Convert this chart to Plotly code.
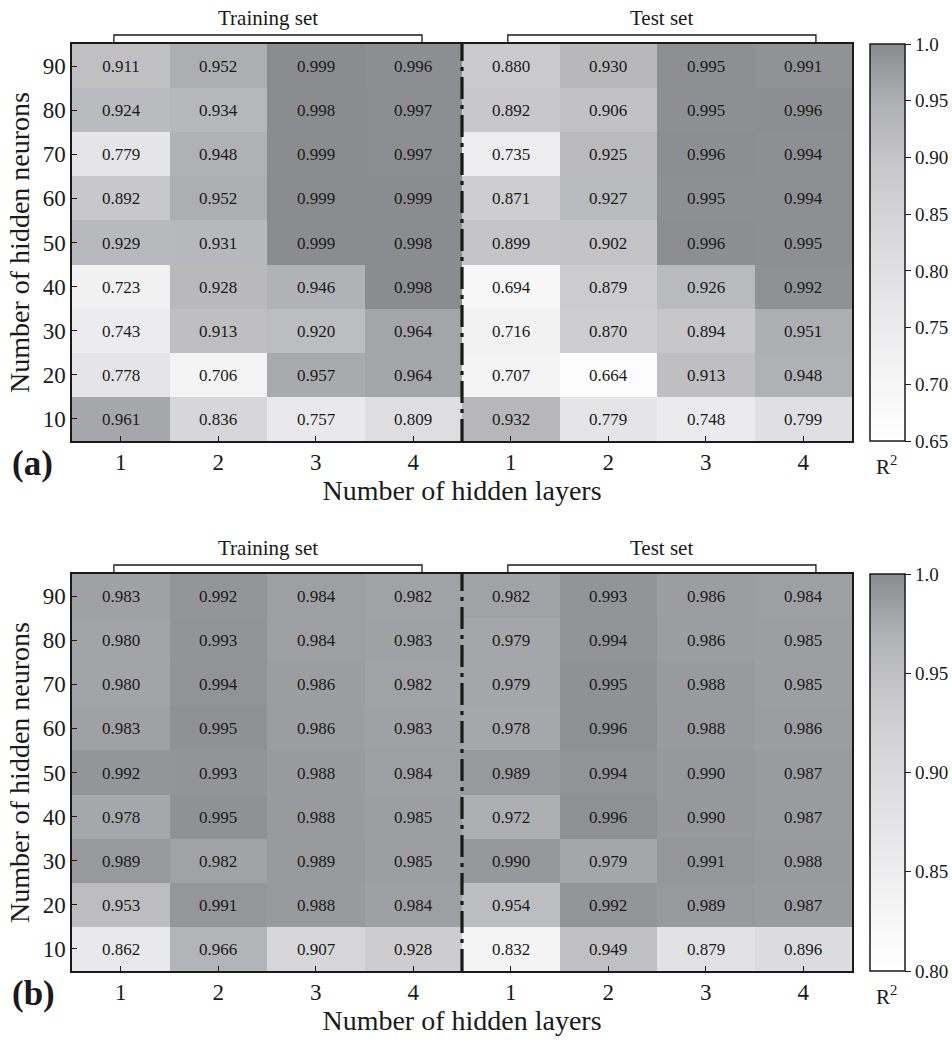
import plotly.graph_objects as go

neurons = [10, 20, 30, 40, 50, 60, 70, 80, 90]
layer_labels = ["1", "2", "3", "4", "1", "2", "3", "4"]

# Panel (a): rows = neurons 10..90, columns = training 1-4, test 1-4
r2_a = [
    [0.961, 0.836, 0.757, 0.809, 0.932, 0.779, 0.748, 0.799],  # 10
    [0.778, 0.706, 0.957, 0.964, 0.707, 0.664, 0.913, 0.948],  # 20
    [0.743, 0.913, 0.920, 0.964, 0.716, 0.870, 0.894, 0.951],  # 30
    [0.723, 0.928, 0.946, 0.998, 0.694, 0.879, 0.926, 0.992],  # 40
    [0.929, 0.931, 0.999, 0.998, 0.899, 0.902, 0.996, 0.995],  # 50
    [0.892, 0.952, 0.999, 0.999, 0.871, 0.927, 0.995, 0.994],  # 60
    [0.779, 0.948, 0.999, 0.997, 0.735, 0.925, 0.996, 0.994],  # 70
    [0.924, 0.934, 0.998, 0.997, 0.892, 0.906, 0.995, 0.996],  # 80
    [0.911, 0.952, 0.999, 0.996, 0.880, 0.930, 0.995, 0.991],  # 90
]

# Panel (b)
r2_b = [
    [0.862, 0.966, 0.907, 0.928, 0.832, 0.949, 0.879, 0.896],  # 10
    [0.953, 0.991, 0.988, 0.984, 0.954, 0.992, 0.989, 0.987],  # 20
    [0.989, 0.982, 0.989, 0.985, 0.990, 0.979, 0.991, 0.988],  # 30
    [0.978, 0.995, 0.988, 0.985, 0.972, 0.996, 0.990, 0.987],  # 40
    [0.992, 0.993, 0.988, 0.984, 0.989, 0.994, 0.990, 0.987],  # 50
    [0.983, 0.995, 0.986, 0.983, 0.978, 0.996, 0.988, 0.986],  # 60
    [0.980, 0.994, 0.986, 0.982, 0.979, 0.995, 0.988, 0.985],  # 70
    [0.980, 0.993, 0.984, 0.983, 0.979, 0.994, 0.986, 0.985],  # 80
    [0.983, 0.992, 0.984, 0.982, 0.982, 0.993, 0.986, 0.984],  # 90
]

cbar_a_vals = [0.65, 0.70, 0.75, 0.80, 0.85, 0.90, 0.95, 1.0]
cbar_a_text = ["0.65", "0.70", "0.75", "0.80", "0.85", "0.90", "0.95", "1.0"]
cbar_b_vals = [0.80, 0.85, 0.90, 0.95, 1.0]
cbar_b_text = ["0.80", "0.85", "0.90", "0.95", "1.0"]

W, H = 952, 1042
FONT = "Liberation Serif"
INK = "#1a1a1a"
cols = list(range(len(layer_labels)))

greys = [
    [0.00, "rgb(255,255,255)"],
    [0.15, "rgb(245,245,246)"],
    [0.35, "rgb(230,230,232)"],
    [0.55, "rgb(214,214,216)"],
    [0.70, "rgb(199,199,202)"],
    [0.85, "rgb(176,177,180)"],
    [1.00, "rgb(138,139,143)"],
]

def py(px):
    return 1 - px / H

panels = [
    dict(z=r2_a, ca="coloraxis", top=44, bot=441,
         zmin=0.65, zmax=1.0, tv=cbar_a_vals, tt=cbar_a_text, label="(a)"),
    dict(z=r2_b, ca="coloraxis2", top=574, bot=971,
         zmin=0.80, zmax=1.0, tv=cbar_b_vals, tt=cbar_b_text, label="(b)"),
]

fig = go.Figure()
layout = dict(
    width=W, height=H, margin=dict(l=0, r=0, t=0, b=0, pad=0),
    paper_bgcolor="white", plot_bgcolor="white",
    font=dict(family=FONT, color=INK),
    showlegend=False,
)
shapes = []
annotations = []

for i, p in enumerate(panels):
    sfx = "" if i == 0 else "2"
    fig.add_trace(go.Heatmap(
        z=p["z"], x=cols, y=neurons, coloraxis=p["ca"],
        xaxis="x" + sfx, yaxis="y" + sfx,
        texttemplate="%{z:.3f}", textfont=dict(family=FONT, size=17, color=INK),
        hoverinfo="skip",
    ))
    ydom = [py(p["bot"]), py(p["top"])]
    layout["xaxis" + sfx] = dict(
        domain=[72 / W, 852 / W], anchor="y" + sfx, range=[-0.5, 7.5],
        tickmode="array", tickvals=cols, ticktext=layer_labels,
        ticks="inside", ticklen=5, tickwidth=1.2, tickcolor=INK,
        showline=True, linecolor=INK, linewidth=1.5, mirror=True,
        showgrid=False, zeroline=False,
        tickfont=dict(size=23, family=FONT, color=INK),
        title=dict(text="Number of hidden layers", font=dict(size=28, family=FONT, color=INK), standoff=4),
    )
    layout["yaxis" + sfx] = dict(
        domain=ydom, anchor="x" + sfx, range=[5, 95],
        tickmode="array", tickvals=neurons,
        ticks="inside", ticklen=5, tickwidth=1.2, tickcolor=INK,
        showline=True, linecolor=INK, linewidth=1.5, mirror=True,
        showgrid=False, zeroline=False,
        tickfont=dict(size=23, family=FONT, color=INK),
        title=dict(text="Number of hidden neurons", font=dict(size=28, family=FONT, color=INK), standoff=5),
    )
    layout[p["ca"]] = dict(
        cmin=p["zmin"], cmax=p["zmax"], colorscale=greys,
        colorbar=dict(
            x=870 / W, xanchor="left", thickness=35, xpad=0, ypad=0,
            lenmode="pixels", len=(p["bot"] - p["top"]),
            y=(ydom[0] + ydom[1]) / 2, yanchor="middle",
            outlinecolor=INK, outlinewidth=1.5,
            tickmode="array", tickvals=p["tv"], ticktext=p["tt"],
            ticks="outside", ticklen=6, tickcolor=INK,
            tickfont=dict(size=19, family=FONT, color=INK),
        ),
    )
    # dash-dot separator between training and test
    shapes.append(dict(type="line", xref="x" + sfx, yref="y" + sfx + " domain",
                       x0=3.5, x1=3.5, y0=0, y1=1,
                       line=dict(color=INK, width=3.2, dash="22px,6px,4px,6px")))
    # brackets over the two halves
    yb = py(p["top"] - 9)
    yt = py(p["top"] - 1)
    for (xa0, xa1, txt) in [(-0.07, 3.09, "Training set"), (3.97, 7.13, "Test set")]:
        shapes.append(dict(type="path", xref="x" + sfx, yref="paper",
                           path=f"M {xa0},{yt} L {xa0},{yb} L {xa1},{yb} L {xa1},{yt}",
                           line=dict(color=INK, width=1.3)))
        annotations.append(dict(x=(xa0 + xa1) / 2, y=py(p["top"] - 12), xref="x" + sfx, yref="paper",
                                text=txt, showarrow=False, yanchor="bottom",
                                font=dict(size=21, family=FONT, color=INK)))
    # panel label
    annotations.append(dict(x=10 / W, y=py(p["bot"] + 22), xref="paper", yref="paper",
                            text="<b>" + p["label"] + "</b>", showarrow=False,
                            xanchor="left", yanchor="middle",
                            font=dict(size=35, family=FONT, color=INK)))
    # R^2 label under colorbar
    annotations.append(dict(x=886 / W, y=py(p["bot"] + 24), xref="paper", yref="paper",
                            text="R<sup>2</sup>", showarrow=False,
                            xanchor="center", yanchor="middle",
                            font=dict(size=21, family=FONT, color=INK)))

layout["shapes"] = shapes
layout["annotations"] = annotations
fig.update_layout(**layout)
fig.write_html("out.html", config={"displayModeBar": False},
               post_script="document.body.style.margin='0px';document.body.style.overflow='hidden';")
